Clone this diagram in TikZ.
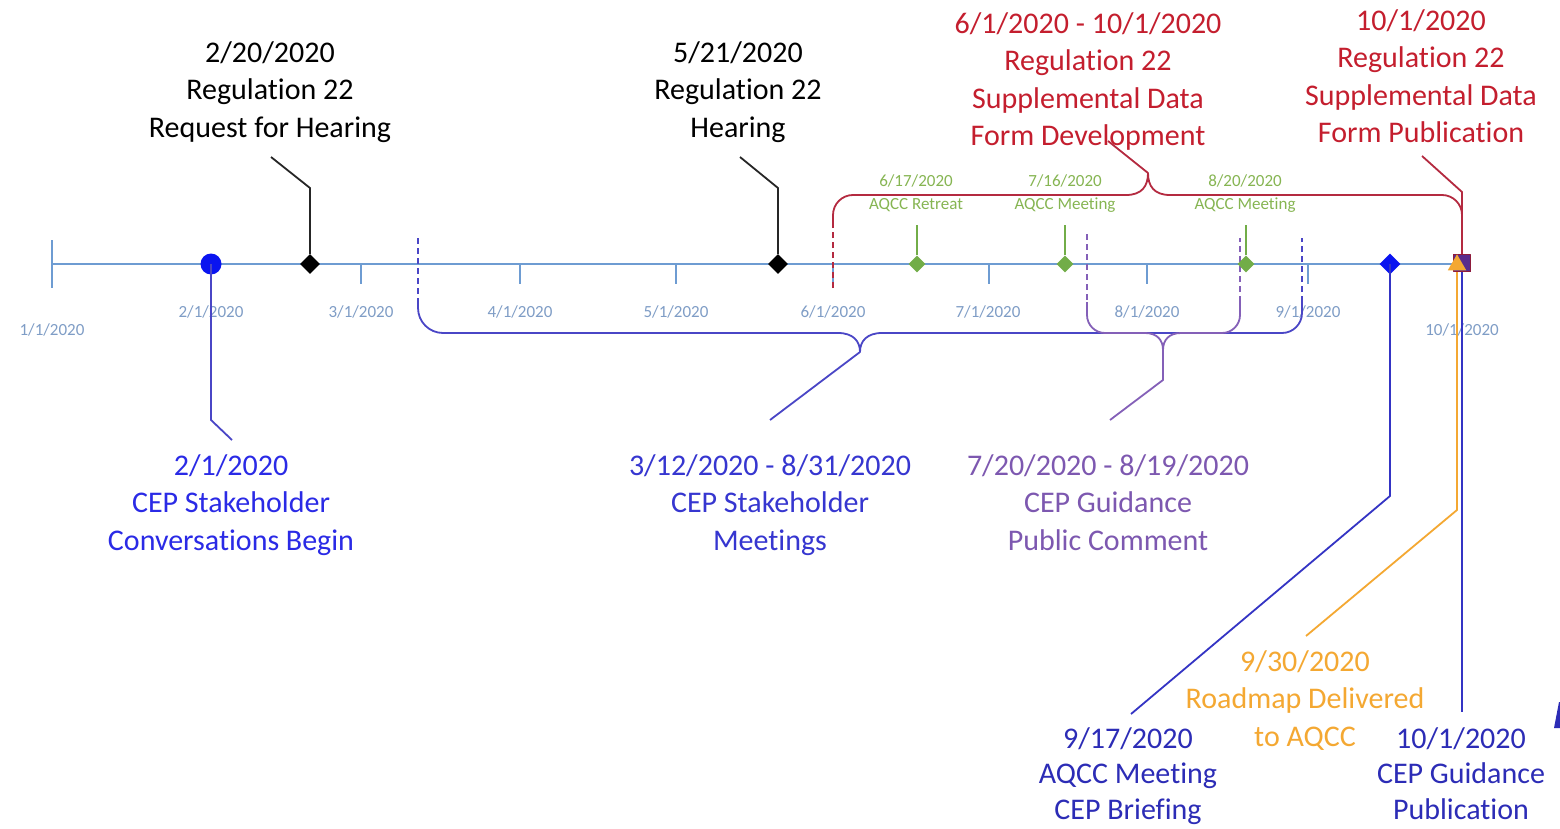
\documentclass[tikz,border=0pt]{standalone}
\usepackage{fontspec}
\setmainfont{Carlito}[Ligatures=NoCommon]
\usetikzlibrary{shapes.geometric}

\definecolor{axisblue}{HTML}{6E9CD2}
\definecolor{ticktext}{HTML}{7F9DC6}
\definecolor{dotblue}{HTML}{0A14F0}
\definecolor{brightblue}{HTML}{2A2AE6}
\definecolor{meetblue}{HTML}{3636D0}
\definecolor{meetline}{HTML}{4A46C6}
\definecolor{pubtext}{HTML}{7D58B0}
\definecolor{publine}{HTML}{8460B8}
\definecolor{regtext}{HTML}{C41E2E}
\definecolor{regline}{HTML}{B42A40}
\definecolor{aqccgreen}{HTML}{72AD48}
\definecolor{aqcctext}{HTML}{86B552}
\definecolor{roadorange}{HTML}{F4A832}
\definecolor{navy}{HTML}{2C2CB6}
\definecolor{navyline}{HTML}{3434C4}
\definecolor{sqfill}{HTML}{5A2C8C}
\definecolor{sqedge}{HTML}{8E1C3C}

\begin{document}
\begin{tikzpicture}[x=1pt,y=-1pt,line join=round,
  big/.style={align=center,inner sep=0pt,anchor=north,font=\fontsize{30}{37.5}\selectfont},
  tight/.style={big,font=\fontsize{30}{35.5}\selectfont},
  small/.style={align=center,inner sep=0pt,anchor=north,font=\fontsize{17}{23}\selectfont,text=aqcctext},
  ticklab/.style={inner sep=0pt,anchor=base,font=\fontsize{17}{20}\selectfont,text=ticktext},
  tickmark/.style={draw=axisblue,line width=1.2pt},
  callout/.style={line width=1.8pt},
  dashleg/.style={line width=1.8pt,dash pattern=on 6pt off 4pt},
  dia/.style={diamond,inner sep=0pt,minimum size=#1}]

\path[use as bounding box,fill=white] (0,0) rectangle (1560,829);

% time axis and month ticks
\coordinate (ax0) at (52,264);
\coordinate (ax1) at (1462,264);
\draw[draw=axisblue,line width=1.3pt] (ax0) -- (ax1);
\draw[tickmark] (52,240) -- (52,288);
\foreach \x in {211,361,520,676,833,989,1147,1308}
  \draw[tickmark] (\x,264) -- (\x,284);

% month labels
\node[ticklab] (l1) at (52,335) {1/1/2020};
\node[ticklab] (l2) at (211,317) {2/1/2020};
\node[ticklab] (l3) at (361,317) {3/1/2020};
\node[ticklab] (l4) at (520,317) {4/1/2020};
\node[ticklab] (l5) at (676,317) {5/1/2020};
\node[ticklab] (l6) at (833,317) {6/1/2020};
\node[ticklab] (l7) at (988,317) {7/1/2020};
\node[ticklab] (l8) at (1147,317) {8/1/2020};
\node[ticklab] (l9) at (1308,317) {9/1/2020};
\node[ticklab] (l10) at (1462,335) {10/1/2020};

% ---- Regulation 22 supplemental data form: 6/1 - 10/1 brace (top)
\draw[regline,dashleg] (833,288) -- (833,226);
\draw[regline,callout,rounded corners=20] (833,226) -- (833,195) -- (1126,195);
\draw[regline,callout] (1126,195) .. controls (1142,195) and (1148,186) .. (1148,173)
  .. controls (1148,186) and (1154,195) .. (1170,195);
\draw[regline,callout,rounded corners=20] (1170,195) -- (1462,195) -- (1462,230);
\coordinate (regtip) at (1148,173);
\coordinate (regend) at (1108,141);
\draw[regline,callout] (regtip) -- (regend);

% ---- CEP stakeholder meetings: 3/12 - 8/31 brace
\draw[meetline,dashleg] (418,238) -- (418,300);
\draw[meetline,callout,rounded corners=25] (418,300) -- (418,333) -- (838,333);
\draw[meetline,callout] (838,333) .. controls (853,333) and (860,341) .. (860,352)
  .. controls (860,341) and (867,333) .. (882,333);
\draw[meetline,callout,rounded corners=20] (882,333) -- (1302,333) -- (1302,302);
\draw[meetline,dashleg] (1302,302) -- (1302,238);
\coordinate (meettip) at (860,352);
\coordinate (meetend) at (770,420);
\draw[meetline,callout] (meettip) -- (meetend);

% ---- CEP guidance public comment: 7/20 - 8/19 brace
\draw[publine,dashleg] (1087,234) -- (1087,302);
\draw[publine,callout,rounded corners=18] (1087,302) -- (1087,333) -- (1145,333);
\draw[publine,callout] (1145,333) .. controls (1157,333) and (1163,340) .. (1163,350)
  .. controls (1163,340) and (1169,333) .. (1181,333);
\draw[publine,callout,rounded corners=18] (1181,333) -- (1240,333) -- (1240,302);
\draw[publine,dashleg] (1240,302) -- (1240,238);
\coordinate (pubtip) at (1163,350);
\coordinate (pubbend) at (1163,380);
\coordinate (pubend) at (1110,420);
\draw[publine,callout] (pubtip) -- (pubbend) -- (pubend);

% ---- markers on the axis
\node[circle,fill=dotblue,inner sep=0pt,minimum size=21pt] (m0201) at (211,264) {};
\node[dia=20pt,fill=black] (m0220) at (310,264) {};
\node[dia=20pt,fill=black] (m0521) at (778,264) {};
\node[dia=17pt,fill=aqccgreen] (m0617) at (917,264) {};
\node[dia=17pt,fill=aqccgreen] (m0716) at (1065,264) {};
\node[dia=17pt,fill=aqccgreen] (m0820) at (1246,264) {};
\node[dia=21pt,fill=dotblue] (m0917) at (1390,264) {};
\node[rectangle,draw=sqedge,fill=sqfill,line width=1.5pt,inner sep=0pt,minimum size=17pt] (m1001) at (1462,263) {};

% ---- connectors from markers
\coordinate (k0220a) at (310,188);
\coordinate (k0220b) at (271,157);
\draw[black!85,callout] (m0220.north) -- (k0220a) -- (k0220b);
\coordinate (k0521a) at (778,188);
\coordinate (k0521b) at (740,157);
\draw[black!85,callout] (m0521.north) -- (k0521a) -- (k0521b);
\coordinate (k0201a) at (211,420);
\coordinate (k0201b) at (232,440);
\draw[meetline,callout] (m0201.center) -- (k0201a) -- (k0201b);
\coordinate (k0617) at (917,225);
\coordinate (k0716) at (1065,225);
\coordinate (k0820) at (1246,225);
\draw[aqccgreen,callout] (m0617.north) -- (k0617);
\draw[aqccgreen,callout] (m0716.north) -- (k0716);
\draw[aqccgreen,callout] (m0820.north) -- (k0820);
\coordinate (k0917a) at (1390,496);
\coordinate (k0917b) at (1131,714);
\draw[navyline,callout] (m0917.center) -- (k0917a) -- (k0917b);
\coordinate (k0930a) at (1457,510);
\coordinate (k0930b) at (1306,636);
\draw[roadorange,callout] (1457,272) -- (k0930a) -- (k0930b);
\coordinate (k1001) at (1462,712);
\draw[navyline,callout] (m1001.south) -- (k1001);
\coordinate (k1001r) at (1462,192);
\coordinate (k1001s) at (1422,156);
\draw[regline,callout] (m1001.north) -- (k1001r) -- (k1001s);

% orange triangle over the 10/1 square
\node[isosceles triangle,isosceles triangle apex angle=60,shape border rotate=90,
  fill=roadorange,inner sep=0pt,minimum height=16pt,minimum width=16pt] (m0930) at (1457,265) {};

% ---- event labels, above the axis
\node[big] (t0220) at (270,41) {2/20/2020\\Regulation 22\\Request for Hearing};
\node[big] (t0521) at (738,41) {5/21/2020\\Regulation 22\\Hearing};
\node[big,text=regtext] (treg) at (1088,12) {6/1/2020 - 10/1/2020\\Regulation 22\\Supplemental Data\\Form Development};
\node[big,text=regtext] (tregp) at (1421,9) {10/1/2020\\Regulation 22\\Supplemental Data\\Form Publication};
\node[small] (t0617) at (916,174) {6/17/2020\\AQCC Retreat};
\node[small] (t0716) at (1065,174) {7/16/2020\\AQCC Meeting};
\node[small] (t0820) at (1245,174) {8/20/2020\\AQCC Meeting};

% ---- event labels, below the axis
\node[big,text=brightblue] (t0201) at (231,454) {2/1/2020\\CEP Stakeholder\\Conversations Begin};
\node[big,text=meetblue] (tmeet) at (770,454) {3/12/2020 - 8/31/2020\\CEP Stakeholder\\Meetings};
\node[big,text=pubtext] (tpub) at (1108,454) {7/20/2020 - 8/19/2020\\CEP Guidance\\Public Comment};
\node[big,text=roadorange] (t0930) at (1305,650) {9/30/2020\\Roadmap Delivered\\to AQCC};
\node[tight,text=navy] (t0917) at (1128,727) {9/17/2020\\AQCC Meeting\\CEP Briefing};
\node[tight,text=navy] (t1001) at (1461,727) {10/1/2020\\CEP Guidance\\Publication};

% cut-off mark at the right edge
\fill[navy] (1554,728) -- (1559,702) -- (1560,702) -- (1560,728) -- cycle;
\end{tikzpicture}
\end{document}
